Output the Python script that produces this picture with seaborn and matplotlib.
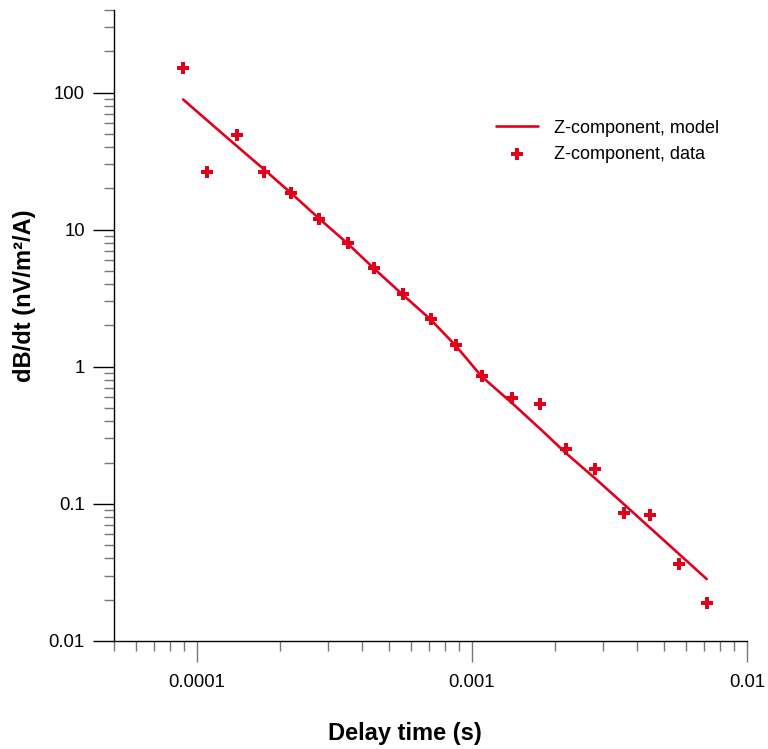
import matplotlib
matplotlib.use("Agg")
import matplotlib.pyplot as plt
import matplotlib.ticker as mticker
import seaborn as sns
import pandas as pd

# ---- data ----
delay_time = [8.92e-5, 1.09e-4, 1.40e-4, 1.76e-4, 2.20e-4, 2.79e-4, 3.54e-4,
              4.41e-4, 5.61e-4, 7.10e-4, 8.75e-4, 1.085e-3, 1.40e-3, 1.77e-3,
              2.20e-3, 2.81e-3, 3.56e-3, 4.45e-3, 5.64e-3, 7.14e-3]
z_data = [150, 26.4, 49.1, 26.2, 18.5, 12.0, 7.93, 5.27, 3.41, 2.24, 1.45,
          0.855, 0.594, 0.532, 0.251, 0.179, 0.086, 0.083, 0.0363, 0.0188]
z_model = [89.0, 62.7, 40.6, 27.4, 18.5, 12.0, 7.9, 5.2, 3.35, 2.2, 1.42,
           0.85, 0.543, 0.353, 0.234, 0.153, 0.100, 0.0667, 0.0434, 0.0283]
x_ticks = [1e-4, 1e-3, 1e-2]
x_tick_labels = ["0.0001", "0.001", "0.01"]
y_ticks = [0.01, 0.1, 1, 10, 100]
y_tick_labels = ["0.01", "0.1", "1", "10", "100"]

df = pd.DataFrame({"t": delay_time, "data": z_data, "model": z_model})

sns.set_style("white")
plt.rcParams["font.family"] = ["Liberation Sans", "DejaVu Sans"]
plt.rcParams["text.color"] = "black"
plt.rcParams["axes.labelcolor"] = "black"

RED = "#E3001B"

fig = plt.figure(figsize=(7.68, 7.49), dpi=100)
ax = fig.add_axes([0.1484, 0.1442, 0.8242, 0.8425])

sns.lineplot(data=df, x="t", y="model", ax=ax, color=RED, linewidth=1.9,
             label="Z-component, model")
sns.scatterplot(data=df, x="t", y="data", ax=ax, color=RED, marker="P",
                s=80, linewidth=0, label="Z-component, data", zorder=3)

ax.set_xscale("log")
ax.set_yscale("log")
ax.set_xlim(5e-5, 1e-2)
ax.set_ylim(0.01, 400)

ax.xaxis.set_major_locator(mticker.FixedLocator(x_ticks))
ax.xaxis.set_major_formatter(mticker.FixedFormatter(x_tick_labels))
ax.yaxis.set_major_locator(mticker.FixedLocator(y_ticks))
ax.yaxis.set_major_formatter(mticker.FixedFormatter(y_tick_labels))
ax.xaxis.set_minor_locator(mticker.LogLocator(base=10, subs=range(2, 10), numticks=20))
ax.yaxis.set_minor_locator(mticker.LogLocator(base=10, subs=range(2, 10), numticks=20))
ax.xaxis.set_minor_formatter(mticker.NullFormatter())
ax.yaxis.set_minor_formatter(mticker.NullFormatter())

for s in ["top", "right"]:
    ax.spines[s].set_visible(False)
for s in ["left", "bottom"]:
    ax.spines[s].set_color("black")
    ax.spines[s].set_linewidth(1.0)

ax.tick_params(axis="both", which="both", bottom=True, left=True, top=False, right=False)
ax.tick_params(axis="both", which="major", direction="out", length=15, width=1.0,
               labelsize=13.3, color="black", labelcolor="black")
ax.tick_params(axis="x", which="major", pad=9, color="#777777")
ax.tick_params(axis="y", which="major", pad=6)
ax.tick_params(axis="both", which="minor", direction="out", length=7.5, width=1.0,
               color="#777777")

ax.set_xlabel("Delay time (s)", fontsize=17, fontweight="bold", labelpad=22,
              color="black")
ax.set_ylabel("dB/dt (nV/m²/A)", fontsize=17, fontweight="bold", labelpad=9,
              color="black")
ax.xaxis.label.set_x(0.46)
ax.yaxis.label.set_y(0.5475)

ax.grid(False)
leg = ax.legend(loc="upper left", bbox_to_anchor=(0.6035, 0.826), frameon=False,
                fontsize=13, handlelength=2.3, handletextpad=0.9,
                labelspacing=0.5, borderpad=0, borderaxespad=0)
for t in leg.get_texts():
    t.set_color("black")

fig.savefig("out.png", dpi=100)
